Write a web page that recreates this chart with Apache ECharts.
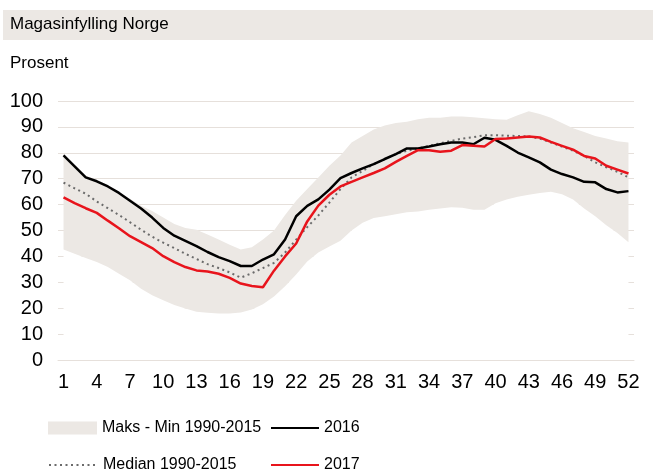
<!DOCTYPE html>
<html>
<head>
<meta charset="utf-8">
<script src="https://cdn.jsdelivr.net/npm/echarts@6/dist/echarts.min.js"></script>
<style>
  html, body { margin: 0; padding: 0; background: #fff; }
  #container { width: 653px; height: 471px; }
</style>
</head>
<body>
<div id="container"></div>
<script>
var weeks = [];
for (var w = 1; w <= 52; w++) weeks.push(String(w));

// Maks / Min 1990-2015 (prosent)
var maxValues = [79.5, 75.3, 71.2, 69.6, 67.6, 65, 62.3, 59.6, 57.5, 55, 52.5, 51, 50.3, 48.5, 46.5, 44.5, 42.7, 43.5, 46.5, 50,
  56, 61.5, 66, 70.5, 75, 79, 84, 86.5, 89, 90.5, 91.5, 92, 93, 93.5, 93.5, 94, 94, 93.7, 93.3, 93,
  92.8, 94.5, 96, 95, 93.5, 91.5, 89.5, 88, 86.5, 85.5, 84.5, 84];
var minValues = [42.7, 41, 39.4, 37.8, 35.9, 33.3, 30.8, 27.5, 25, 23.1, 21.2, 19.9, 18.6, 18.2, 18, 18, 18.3, 19.5, 21.5, 24.5,
  28.5, 33, 38, 41.5, 43.8, 46, 50, 53, 54.8, 55.5, 56.3, 57, 57.3, 58, 58.5, 59, 58.8, 58, 58, 60.5,
  62, 63, 63.8, 64.5, 65, 64, 62, 58.5, 55.5, 52, 49, 45.5];
var median = [68.5, 66.3, 64.2, 61.2, 58.6, 56, 53.2, 50.3, 47.6, 45.3, 43.2, 41, 39, 37, 35.5, 33.8, 31.8, 33.5, 35.5, 37.5,
  41.5, 46.5, 51.3, 55.8, 60.8, 66, 70.5, 73, 75.6, 77.6, 79.5, 80.8, 81.7, 82.7, 83.7, 84.6, 85.5, 86, 86.8, 86.8,
  86.6, 86.5, 86.3, 85.5, 84, 82.4, 80.8, 78.8, 76.3, 74.4, 72.7, 70.5];
var y2016 = [79, 74.8, 70.5, 69, 67, 64.5, 61.5, 58.5, 55, 51, 48, 46, 44, 41.7, 39.7, 38.2, 36.3, 36.3, 38.8, 40.8,
  46.5, 55.5, 59.5, 62, 65.8, 70.2, 72.2, 74, 75.6, 77.6, 79.5, 81.7, 81.7, 82.4, 83.3, 84, 84, 83.3, 85.8, 85,
  82.7, 80.1, 78.2, 76.3, 73.5, 71.8, 70.5, 68.8, 68.6, 66, 64.7, 65.2];
var y2017 = [62.8, 60.6, 58.6, 56.8, 53.8, 50.9, 47.8, 45.5, 43.2, 40.1, 37.8, 35.9, 34.6, 34.2, 33.3, 31.7, 29.5, 28.6, 28.1, 34.5,
  40, 45, 53.5, 59.6, 63.8, 67, 68.8, 70.5, 72.2, 74, 76.5, 78.8, 81, 81, 80.4, 80.8, 83, 82.7, 82.4, 85.3,
  85.5, 85.9, 86.3, 85.9, 84.2, 82.7, 81.2, 78.8, 77.8, 75, 73.5, 72];

var bandSpan = maxValues.map(function (v, i) { return +(v - minValues[i]).toFixed(1); });

var font = "'Liberation Sans', Arial, sans-serif";
var bandColor = "#ece8e4";
var gridColor = "#e6e0db";

var dom = document.getElementById("container");
var myChart = echarts.init(dom, null, { renderer: "canvas" });

var legendText = { fontFamily: font, fontSize: 16, color: "#000" };

var option = {
  animation: false,
  graphic: [
    {
      type: "rect",
      left: 3, top: 10,
      shape: { width: 650, height: 30 },
      style: { fill: bandColor },
      z: -1
    }
  ],
  title: [
    {
      text: "Magasinfylling Norge",
      left: 10, top: 16, padding: 0,
      textStyle: { fontFamily: font, fontSize: 17, fontWeight: "normal", color: "#000" }
    },
    {
      text: "Prosent",
      left: 10, top: 55, padding: 0,
      textStyle: { fontFamily: font, fontSize: 17, fontWeight: "normal", color: "#000" }
    }
  ],
  legend: [
    {
      left: 48, top: 420, padding: 0, itemWidth: 49, itemHeight: 13,
      data: [{ name: "Maks - Min 1990-2015", icon: "rect" }],
      textStyle: legendText
    },
    {
      left: 270, top: 420, padding: 0, itemWidth: 48, itemHeight: 13,
      itemStyle: { opacity: 0 },
      data: ["2016"],
      textStyle: legendText
    },
    {
      left: 48, top: 457, padding: 0, itemWidth: 49, itemHeight: 13,
      itemStyle: { opacity: 0 },
      data: ["Median 1990-2015"],
      textStyle: legendText
    },
    {
      left: 270, top: 457, padding: 0, itemWidth: 48, itemHeight: 13,
      itemStyle: { opacity: 0 },
      data: ["2017"],
      textStyle: legendText
    }
  ],
  grid: {
    left: 58,
    right: 19,
    top: 101,
    bottom: 111
  },
  xAxis: {
    type: "category",
    data: weeks,
    boundaryGap: true,
    z: 10,
    axisLine: { show: true, lineStyle: { color: gridColor, width: 1 } },
    axisTick: { show: false },
    axisLabel: {
      interval: 2,
      margin: 12,
      fontFamily: font,
      fontSize: 20,
      color: "#000"
    }
  },
  yAxis: {
    type: "value",
    min: 0,
    max: 100,
    interval: 10,
    axisLine: { show: false },
    axisTick: { show: false },
    splitLine: { lineStyle: { color: gridColor, width: 1 } },
    axisLabel: {
      margin: 15,
      fontFamily: font,
      fontSize: 20,
      color: "#000"
    }
  },
  series: [
    {
      // white fill under the band, hides the grid lines like the original
      name: "min",
      type: "line",
      stack: "band",
      data: minValues,
      symbol: "none",
      silent: true,
      lineStyle: { opacity: 0 },
      areaStyle: { color: "#ffffff", opacity: 1 },
      itemStyle: { color: "#ffffff" }
    },
    {
      name: "Maks - Min 1990-2015",
      type: "line",
      stack: "band",
      data: bandSpan,
      symbol: "none",
      lineStyle: { opacity: 0 },
      areaStyle: { color: bandColor, opacity: 1 },
      itemStyle: { color: bandColor }
    },
    {
      name: "Median 1990-2015",
      type: "line",
      data: median,
      symbol: "none",
      itemStyle: { color: "#6b6b6b" },
      lineStyle: { color: "#6b6b6b", width: 2, type: [2, 3.5] }
    },
    {
      name: "2016",
      type: "line",
      data: y2016,
      symbol: "none",
      itemStyle: { color: "#000000" },
      lineStyle: { color: "#000000", width: 2.5 }
    },
    {
      name: "2017",
      type: "line",
      data: y2017,
      symbol: "none",
      itemStyle: { color: "#e8141c" },
      lineStyle: { color: "#e8141c", width: 2.5 }
    }
  ]
};

myChart.setOption(option);

window.addEventListener("resize", myChart.resize);
</script>
</body>
</html>
